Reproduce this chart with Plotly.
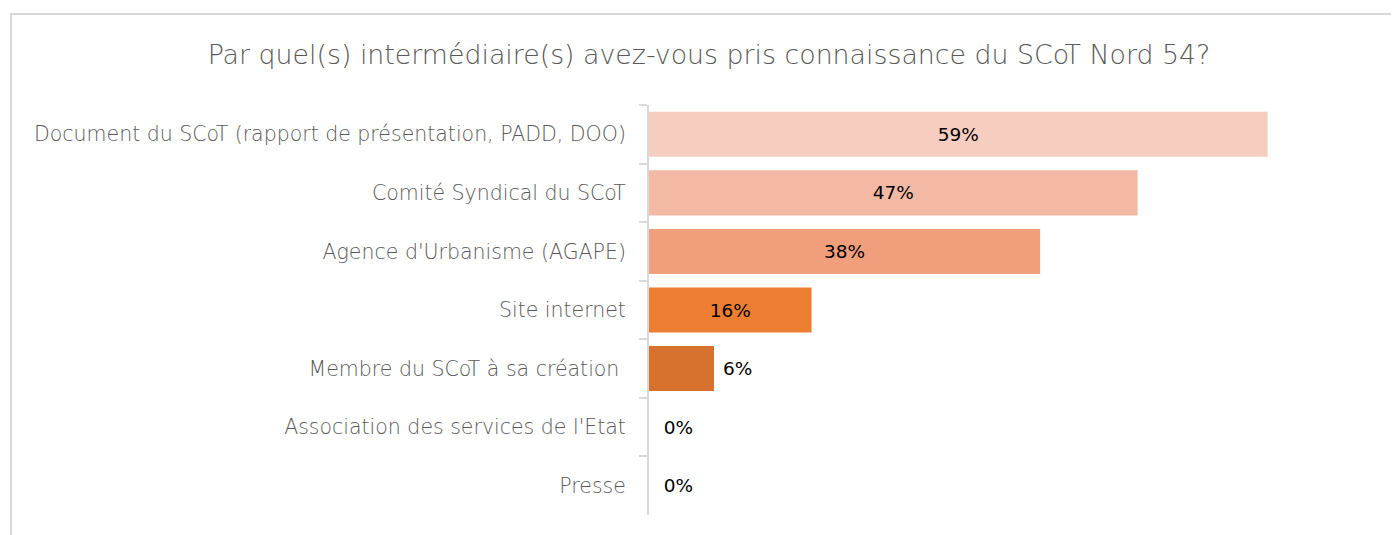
import plotly.graph_objects as go

categories = [
    "Document du SCoT (rapport de présentation, PADD, DOO)",
    "Comité Syndical du SCoT",
    "Agence d'Urbanisme (AGAPE)",
    "Site internet",
    "Membre du SCoT à sa création ",
    "Association des services de l'Etat",
    "Presse",
]
values = [59, 46.6, 37.3, 15.5, 6.2, 0, 0]
value_labels = ["59%", "47%", "38%", "16%", "6%", "0%", "0%"]
bar_colors = ["#F7CDC0", "#F4B9A5", "#F09E7C", "#ED7D31", "#D7712E", "#D7712E", "#D7712E"]
text_positions = ["inside", "inside", "inside", "inside", "outside", "outside", "outside"]
title_text = "Par quel(s) intermédiaire(s) avez-vous pris connaissance du SCoT Nord 54?"

# the page body has an 8px margin; work in reference pixels minus this offset
OFF = 8
W, H = 1399 - OFF, 535 - OFF
ml, mr, mt, mb = 649 - OFF, 16, 105 - OFF, 20
pw = W - ml - mr
ph = H - mt - mb

# small gap before labels placed outside the bars
pad = {"outside": "\u00a0", "inside": ""}
shown_text = [pad[p] + (("\u00a0") if v == 0 else "") + t
              for p, v, t in zip(text_positions, values, value_labels)]

fig = go.Figure(go.Bar(
    x=values,
    y=categories,
    orientation="h",
    marker=dict(color=bar_colors, line=dict(width=0)),
    text=shown_text,
    textposition=text_positions,
    insidetextanchor="middle",
    textfont=dict(family="DejaVu Sans, sans-serif", size=18.5, color="#000000"),
    insidetextfont=dict(color="#000000"),
    outsidetextfont=dict(color="#000000"),
    constraintext="none",
    cliponaxis=False,
    hoverinfo="skip",
))

def px_x(p):
    return (p - OFF - ml) / pw

def px_y(p):
    return (H - mb - (p - OFF)) / ph

fig.update_layout(
    width=W, height=H,
    margin=dict(l=ml, r=mr, t=mt, b=mb),
    paper_bgcolor="white",
    plot_bgcolor="white",
    bargap=0.23,
    showlegend=False,
    title=dict(
        text=title_text,
        x=(709 - OFF) / W, xref="container", xanchor="center",
        y=1 - (55 - OFF) / H, yref="container", yanchor="middle",
        font=dict(family="DejaVu Sans ExtraLight, DejaVu Sans, sans-serif", size=26.8,
                  color="#595959", weight=200),
    ),
    xaxis=dict(
        range=[0, 70], showgrid=False, zeroline=False, showticklabels=False,
        showline=False, ticks="", fixedrange=True,
    ),
    yaxis=dict(
        autorange="reversed", categoryorder="array", categoryarray=categories,
        showline=True, linecolor="#D9D9D9", linewidth=2,
        ticks="outside", tickson="boundaries", ticklen=8, tickcolor="#D9D9D9", tickwidth=2,
        tickfont=dict(family="DejaVu Sans ExtraLight, DejaVu Sans, sans-serif", size=20.5,
                      color="#595959", weight=200),
        ticklabelstandoff=17,
        showgrid=False, zeroline=False,
    ),
    shapes=[
        dict(type="line", xref="paper", yref="paper",
             x0=px_x(10), x1=px_x(1398), y0=px_y(14), y1=px_y(14),
             line=dict(color="#D9D9D9", width=2)),
        dict(type="line", xref="paper", yref="paper",
             x0=px_x(11), x1=px_x(11), y0=px_y(14), y1=px_y(545),
             line=dict(color="#D9D9D9", width=2)),
    ],
)

fig.write_html("out.html")
